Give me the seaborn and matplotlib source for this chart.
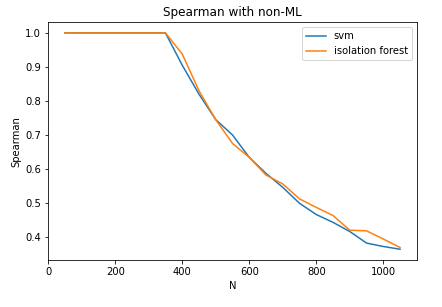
import matplotlib
matplotlib.use("Agg")
from matplotlib import pyplot as plt
import pandas as pd
import seaborn as sns

# values
n_values = [50, 100, 150, 200, 250, 300, 350, 400, 450, 500, 550,
            600, 650, 700, 750, 800, 850, 900, 950, 1000, 1050]
svm = [1.0, 1.0, 1.0, 1.0, 1.0, 1.0, 1.0, 0.905, 0.82, 0.745, 0.70,
       0.634, 0.587, 0.546, 0.499, 0.466, 0.443, 0.416, 0.382, 0.372, 0.364]
iso_forest = [1.0, 1.0, 1.0, 1.0, 1.0, 1.0, 1.0, 0.938, 0.83, 0.745, 0.675,
              0.634, 0.582, 0.556, 0.512, 0.487, 0.463, 0.42, 0.418, 0.394, 0.369]

df = pd.DataFrame({
    "N": n_values * 2,
    "Spearman": svm + iso_forest,
    "method": ["svm"] * len(n_values) + ["isolation forest"] * len(n_values),
})

fig, ax = plt.subplots(figsize=(442 / 72, 307 / 72), dpi=72)
sns.lineplot(data=df, x="N", y="Spearman", hue="method",
             palette=["#1f77b4", "#ff7f0e"], ax=ax)

ax.set_title("Spearman with non-ML")
ax.set_xlabel("N")
ax.set_ylabel("Spearman")
ax.legend(loc="upper right")

fig.subplots_adjust(left=0.109, right=0.943, top=0.928, bottom=0.153)
plt.savefig("out.png", dpi=72)
plt.close(fig)
